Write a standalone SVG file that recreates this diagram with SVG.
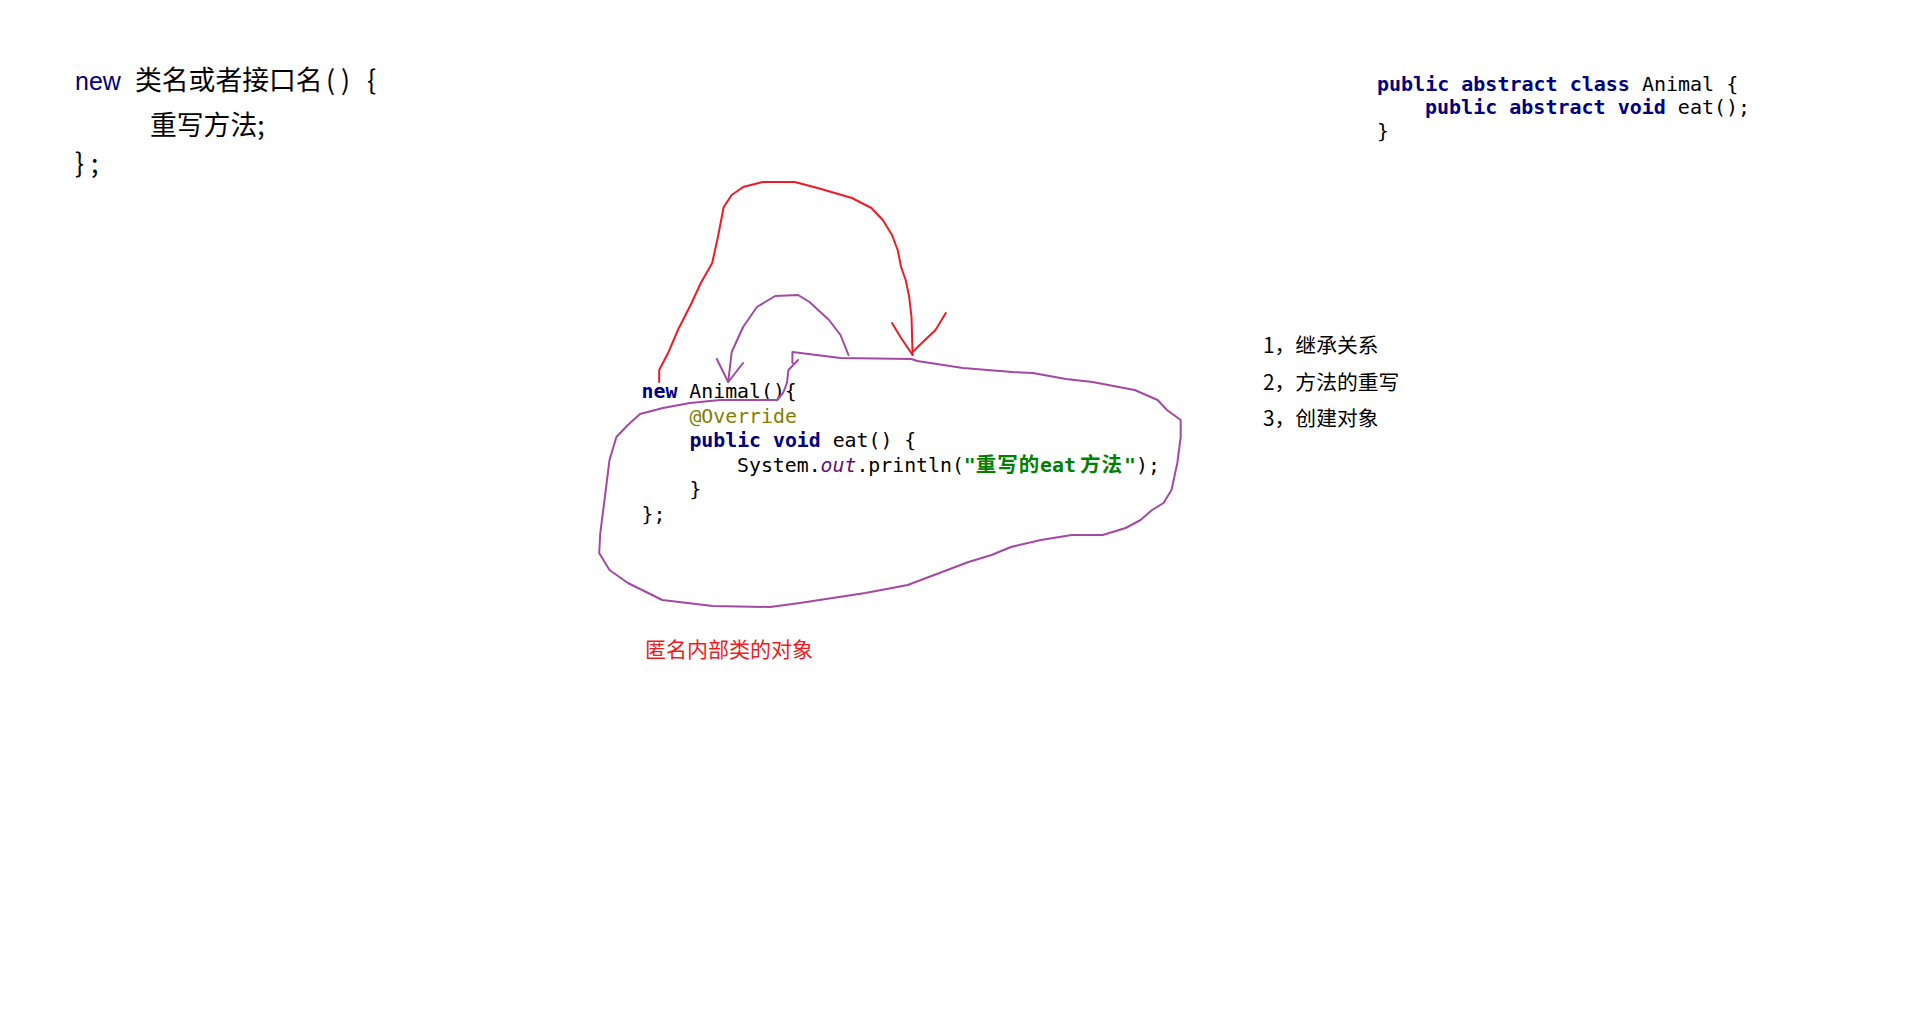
<svg xmlns="http://www.w3.org/2000/svg" width="1920" height="1010" viewBox="0 0 1920 1010">
<style>
.cjk{font-family:"Noto Sans CJK SC","Noto Sans",sans-serif;}
.mono{font-family:"DejaVu Sans Mono","Liberation Mono","Noto Sans CJK SC",monospace;}
.kw{fill:#000080;font-weight:bold;}
.ann{fill:#808000;}
.str{fill:#008000;font-weight:bold;}
.fld{fill:#660e7a;font-style:italic;}
.red{fill:none;stroke:#ed1c24;stroke-width:2;stroke-linejoin:round;stroke-linecap:round;}
.pur{fill:none;stroke:#a349a4;stroke-width:2;stroke-linejoin:round;stroke-linecap:round;}
</style>
<rect width="1920" height="1010" fill="#ffffff"/>

<g id="syntax" class="cjk" font-size="26.8" fill="#000">
  <text x="75" y="90" font-family="Liberation Sans, sans-serif" font-size="25" fill="#000080">new</text>
  <text x="135" y="90">类名或者接口名</text>
  <text x="326" y="90">(</text>
  <text x="341" y="90">)</text>
  <text x="367" y="90">{</text>
  <text x="150" y="134.5">重写方法;</text>
  <text x="75" y="172.5">}</text>
  <text x="91" y="172.5">;</text>
</g>

<g id="animal-class" class="mono" font-size="20" fill="#000">
  <text x="1377" y="91" xml:space="preserve"><tspan class="kw">public abstract class</tspan> Animal {</text>
  <text x="1425" y="114" xml:space="preserve"><tspan class="kw">public abstract void</tspan> eat();</text>
  <text x="1377" y="138">}</text>
</g>

<g id="anonymous-code" class="mono" font-size="19.83" fill="#000">
  <text x="641.6" y="398" xml:space="preserve"><tspan class="kw">new</tspan> Animal(){</text>
  <text x="689.4" y="422.6" class="ann">@Override</text>
  <text x="689.4" y="447.2" xml:space="preserve"><tspan class="kw">public void</tspan> eat() {</text>
  <text x="737" y="471.8">System.<tspan class="fld">out</tspan>.println(<tspan class="str">"<tspan class="cjk" font-size="20.5" letter-spacing="1">重写的</tspan><tspan x="1040">eat</tspan><tspan x="1080" class="cjk" font-size="20.5" letter-spacing="1">方法</tspan><tspan x="1124">"</tspan></tspan><tspan x="1136">);</tspan></text>
  <text x="689.4" y="496.4">}</text>
  <text x="641.6" y="521">};</text>
</g>

<g id="points" class="cjk" font-size="20.8" fill="#000">
  <text x="1263" y="353">1，继承关系</text>
  <text x="1263" y="390">2，方法的重写</text>
  <text x="1263" y="426">3，创建对象</text>
</g>

<g id="label" class="cjk" font-size="21" fill="#ed1c24">
  <text x="645" y="657">匿名内部类的对象</text>
</g>

<g id="connectors">
  <path class="red" d="M659.2,382 L659.2,370 L668.7,351.7 L677.9,330 L691.6,303 L700.8,283 L712.2,263 L717.9,237 L723.7,207 L731.7,195 L743.1,187 L762.6,182 L794.7,182 L817.6,188 L851.9,198 L871.4,208 L882.8,220 L892,235 L897.7,250 L901.1,267 L905.7,280 L909.2,297 L911.5,317 L912.6,355"/>
  <path class="red" d="M892,323 L901.1,338 L912.6,355 M945.8,313 L935.5,330 L922.9,342 L912.6,352"/>
  <path class="pur" d="M848.5,355 L840.5,335 L829,320 L809.5,302 L798.1,295 L775.2,296 L756.9,307 L743.1,327 L731.7,352 L728.2,382"/>
  <path class="pur" d="M716.8,359 L728.2,382 L743.1,363"/>
  <path class="pur" d="M792.4,363 L792.4,352 L840.5,358 L911.4,359 L917.2,361 L963,368 L1012.2,372 L1032.8,373 L1066,379 L1092.4,382 L1134.7,390 L1157.6,400 L1167,410 L1180.7,420 L1180.7,437 L1177.3,463 L1171.5,490 L1163.5,503 L1152,510 L1140.6,520 L1125.6,528 L1102.7,535 L1071.7,535 L1040.8,540 L1011,547 L991.5,555 L968.5,562 L934.1,575 L907.7,585 L865.3,593 L799.9,603 L770.1,607 L712.7,606 L662.3,600 L627.9,583 L609.5,570 L599.2,553 L600.3,533 L604.9,497 L609.5,460 L616.4,437 L627.9,425 L640,414 L663,408 L690,403 L720,400 L777,400 L783,393 L787,383 L788.4,370 L798.1,360"/>
</g>
</svg>
